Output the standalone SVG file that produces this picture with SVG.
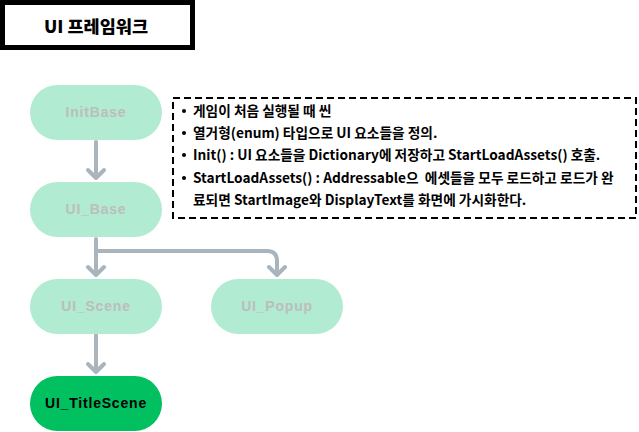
<svg xmlns="http://www.w3.org/2000/svg" width="639" height="432" viewBox="0 0 639 432">
<style>
.node{fill:#b1ebd1}
.lbl{font-family:"Liberation Sans","Noto Sans",sans-serif;font-weight:bold;font-size:14px;fill:#bdbdbd;text-anchor:middle;dominant-baseline:central;letter-spacing:0.8px}
.conn{fill:none;stroke:#a9b4bc;stroke-width:4;stroke-linecap:round;stroke-linejoin:round}
.note{font-family:"Noto Sans CJK KR","Noto Sans",sans-serif;font-size:13.7px;font-weight:bold;fill:#000;white-space:pre}
</style>
<rect width="639" height="432" fill="#fff"/>
<g id="title">
<rect x="2.5" y="2.5" width="190" height="45" fill="#fff" stroke="#000" stroke-width="5"/>
<text x="96" y="25" text-anchor="middle" dominant-baseline="central" font-family="Noto Sans CJK KR,sans-serif" font-weight="900" font-size="17.5">UI 프레임워크</text>
</g>
<g id="connectors">
<path class="conn" d="M96 142 V178 M88 170 L96 178 L104 170"/>
<path class="conn" d="M96 239 V275 M88 267 L96 275 L104 267"/>
<path class="conn" d="M96 251 H267 Q277 251 277 261 V275 M269 267 L277 275 L285 267"/>
<path class="conn" d="M96 335 V372 M88 364 L96 372 L104 364"/>
</g>
<g id="InitBase">
<rect class="node" x="30" y="85" width="132" height="55" rx="27.5"/>
<text class="lbl" x="96" y="112">InitBase</text>
</g>
<g id="UI_Base">
<rect class="node" x="30" y="182" width="132" height="55" rx="27.5"/>
<text class="lbl" x="96" y="209">UI_Base</text>
</g>
<g id="UI_Scene">
<rect class="node" x="30" y="279" width="132" height="55" rx="27.5"/>
<text class="lbl" x="96" y="306">UI_Scene</text>
</g>
<g id="UI_Popup">
<rect class="node" x="211" y="279" width="132" height="55" rx="27.5"/>
<text class="lbl" x="277" y="306">UI_Popup</text>
</g>
<g id="UI_TitleScene">
<rect x="30" y="376" width="132" height="55" rx="27.5" fill="#00c060"/>
<text class="lbl" x="96" y="403" style="fill:#000">UI_TitleScene</text>
</g>
<g id="note">
<rect x="173" y="98" width="463" height="120" fill="#fff" stroke="#000" stroke-width="2" stroke-dasharray="7,4"/>
<g class="note">
<circle cx="184" cy="111" r="2"/>
<circle cx="184" cy="133" r="2"/>
<circle cx="184" cy="155" r="2"/>
<circle cx="184" cy="178" r="2"/>
<text x="193" y="116">게임이 처음 실행될 때 씬</text>
<text x="193" y="138">열거형(enum) 타입으로 UI 요소들을 정의.</text>
<text x="193" y="160">Init() : UI 요소들을 Dictionary에 저장하고 StartLoadAssets() 호출.</text>
<text x="193" y="183" xml:space="preserve">StartLoadAssets() : Addressable으  에셋들을 모두 로드하고 로드가 완</text>
<text x="193" y="205">료되면 StartImage와 DisplayText를 화면에 가시화한다.</text>
</g>
</g>
</svg>
